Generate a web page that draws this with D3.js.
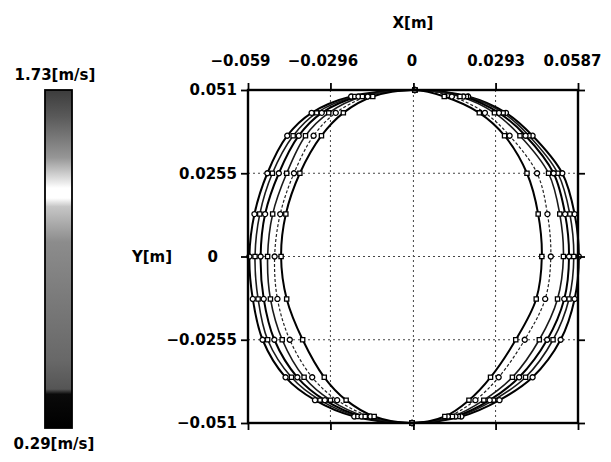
<!DOCTYPE html>
<html>
<head>
<meta charset="utf-8">
<script src="https://cdn.jsdelivr.net/npm/d3@7/dist/d3.min.js"></script>
<style>
  html, body { margin: 0; padding: 0; background: #fff; }
  svg { display: block; }
  text { font-family: "DejaVu Sans", Verdana, sans-serif; font-weight: bold; fill: #000; }
</style>
</head>
<body>
<svg id="chart" width="611" height="462"></svg>
<script>
// Axis ticks and labels
const xTicks = [-0.059, -0.0296, 0, 0.0293, 0.0587];
const xTickLabels = ["\u22120.059", "\u22120.0296", "0", "0.0293", "0.0587"];
const yTicks = [0.051, 0.0255, 0, -0.0255, -0.051];
const yTickLabels = ["0.051", "0.0255", "0", "\u22120.0255", "\u22120.051"];

// Colour bar range labels
const speedMax = "1.73[m/s]";
const speedMin = "0.29[m/s]";

// Y coordinate of every sample along a loop (top, down the right side, bottom, up the left side)
const loopY = [0.051, 0.049, 0.044, 0.037, 0.0255, 0.013, 0, -0.013, -0.0255, -0.037, -0.044, -0.049,
               -0.051, -0.049, -0.044, -0.037, -0.0255, -0.013, 0, 0.013, 0.0255, 0.037, 0.044, 0.049];

// X coordinate of each sample, one array per recorded loop (outermost first)
const loop1X = [0.0005, 0.0195, 0.0330, 0.0425, 0.0531, 0.0575, 0.0590, 0.0575, 0.0525, 0.0425, 0.0307, 0.0171,
                -0.0005, -0.0211, -0.0351, -0.0456, -0.0538, -0.0573, -0.0585, -0.0567, -0.0521, -0.0450, -0.0363, -0.0222];
const loop2X = [0.0005, 0.0189, 0.0320, 0.0412, 0.0515, 0.0558, 0.0572, 0.0555, 0.0498, 0.0400, 0.0286, 0.0160,
                -0.0005, -0.0198, -0.0333, -0.0435, -0.0520, -0.0554, -0.0565, -0.0548, -0.0503, -0.0429, -0.0345, -0.0209];
const loop3X = [0.0005, 0.0178, 0.0305, 0.0400, 0.0500, 0.0541, 0.0555, 0.0538, 0.0477, 0.0377, 0.0272, 0.0150,
                -0.0005, -0.0185, -0.0316, -0.0414, -0.0496, -0.0534, -0.0545, -0.0529, -0.0480, -0.0409, -0.0327, -0.0196];
const loop4X = [0.0005, 0.0166, 0.0289, 0.0380, 0.0482, 0.0522, 0.0535, 0.0514, 0.0449, 0.0353, 0.0251, 0.0139,
                -0.0005, -0.0172, -0.0296, -0.0390, -0.0468, -0.0510, -0.0520, -0.0502, -0.0452, -0.0385, -0.0302, -0.0182];
const loop5X = [0.0005, 0.0137, 0.0255, 0.0343, 0.0441, 0.0478, 0.0490, 0.0470, 0.0397, 0.0304, 0.0221, 0.0123,
                -0.0005, -0.0153, -0.0272, -0.0361, -0.0441, -0.0485, -0.0495, -0.0475, -0.0426, -0.0356, -0.0277, -0.0163];
const loop6X = [0.0005, 0.0110, 0.0235, 0.0325, 0.0405, 0.0445, 0.0458, 0.0438, 0.0365, 0.0275, 0.0198, 0.0112,
                -0.0005, -0.0140, -0.0240, -0.0318, -0.0395, -0.0452, -0.0472, -0.0455, -0.0405, -0.0328, -0.0250, -0.0145];

const loops = [loop1X, loop2X, loop3X, loop4X, loop5X, loop6X].map(xs => xs.map((x, i) => [x, loopY[i]]));

const svg = d3.select("#chart");
const plot = { left: 248, right: 578, top: 90, bottom: 423 };
const FONT = "15px";

const x = d3.scaleLinear().domain([-0.059, 0.0587]).range([plot.left, plot.right]);
const y = d3.scaleLinear().domain([-0.051, 0.051]).range([plot.bottom, plot.top]);

// ---- colour bar ----
const defs = svg.append("defs");
const grad = defs.append("linearGradient").attr("id", "speedGrad")
  .attr("x1", 0).attr("y1", 0).attr("x2", 0).attr("y2", 1);
[[0, "#3c3c3c"], [0.08, "#5a5a5a"], [0.2, "#969696"], [0.27, "#e6e6e6"], [0.29, "#fff"], [0.32, "#fff"],
 [0.345, "#c6c6c6"], [0.45, "#8c8c8c"], [0.62, "#7a7a7a"], [0.8, "#686868"], [0.885, "#555"],
 [0.9, "#0a0a0a"], [1, "#000"]].forEach(([o, c]) => grad.append("stop").attr("offset", o).attr("stop-color", c));

const bar = { x: 45, y: 90, w: 27, h: 338 };
svg.append("rect").attr("x", bar.x).attr("y", bar.y).attr("width", bar.w).attr("height", bar.h)
  .attr("fill", "url(#speedGrad)").attr("stroke", "#000").attr("stroke-width", 1.8);
svg.append("text").attr("x", 55).attr("y", 80).attr("text-anchor", "middle")
  .style("font-size", FONT).text(speedMax);
svg.append("text").attr("x", 54).attr("y", 449).attr("text-anchor", "middle")
  .style("font-size", FONT).text(speedMin);

// ---- grid ----
const grid = svg.append("g").attr("stroke", "#444").attr("stroke-width", 1).attr("stroke-dasharray", "2,3");
xTicks.slice(1, -1).forEach(v => grid.append("line")
  .attr("x1", x(v)).attr("x2", x(v)).attr("y1", plot.top).attr("y2", plot.bottom));
yTicks.slice(1, -1).forEach(v => grid.append("line")
  .attr("x1", plot.left).attr("x2", plot.right).attr("y1", y(v)).attr("y2", y(v)));

// ---- loops ----
const line = d3.line().x(d => x(d[0])).y(d => y(d[1])).curve(d3.curveCatmullRomClosed.alpha(0.5));
const loopStyle = [
  { w: 2.0, dash: null, col: "#000" },
  { w: 1.6, dash: null, col: "#1a1a1a" },
  { w: 2.0, dash: null, col: "#000" },
  { w: 1.6, dash: null, col: "#1a1a1a" },
  { w: 1.2, dash: "3,2", col: "#222" },
  { w: 2.0, dash: null, col: "#000" }
];
const gLoops = svg.append("g");
loops.forEach((pts, i) => {
  gLoops.append("path").attr("d", line(pts)).attr("fill", "none")
    .attr("stroke", loopStyle[i].col).attr("stroke-width", loopStyle[i].w)
    .attr("stroke-dasharray", loopStyle[i].dash);
});
const symCircle = d3.symbol().type(d3.symbolCircle).size(20);
const symSquare = d3.symbol().type(d3.symbolSquare).size(18);
loops.forEach((pts, i) => {
  gLoops.append("g").selectAll("path").data(pts).join("path")
    .attr("transform", d => `translate(${x(d[0])},${y(d[1])})`)
    .attr("d", i % 2 ? symSquare : symCircle)
    .attr("fill", "#fff").attr("stroke", "#000").attr("stroke-width", 1.3);
});

// ---- frame and axes ----
svg.append("rect").attr("x", plot.left).attr("y", plot.top)
  .attr("width", plot.right - plot.left).attr("height", plot.bottom - plot.top)
  .attr("fill", "none").attr("stroke", "#000").attr("stroke-width", 2.4);

function styleAxis(g) {
  g.select(".domain").remove();
  g.selectAll(".tick line").attr("stroke", "#000").attr("stroke-width", 1.8);
  g.selectAll("text").style("font-size", FONT).style("font-family", "'DejaVu Sans', Verdana, sans-serif")
    .style("font-weight", "bold").attr("fill", "#000");
}

const xTop = svg.append("g").attr("transform", `translate(0,${plot.top})`)
  .call(d3.axisTop(x).tickValues(xTicks).tickSize(7).tickPadding(17).tickFormat((d, i) => xTickLabels[i]))
  .call(styleAxis);
xTop.selectAll(".tick text").attr("dx", (d, i) => d < 0 ? -8 : (d === 0 ? -2 : (i === 4 ? -6 : 0)));

svg.append("g").attr("transform", `translate(0,${plot.bottom})`)
  .call(d3.axisBottom(x).tickValues(xTicks).tickSize(7).tickFormat(""))
  .call(styleAxis);

const yLeft = svg.append("g").attr("transform", `translate(${plot.left},0)`)
  .call(d3.axisLeft(y).tickValues(yTicks).tickSize(7).tickPadding(4).tickFormat((d, i) => yTickLabels[i]))
  .call(styleAxis);
yLeft.selectAll(".tick text").attr("dx", d => d === 0 ? -19 : 0);

svg.append("g").attr("transform", `translate(${plot.right},0)`)
  .call(d3.axisRight(y).tickValues(yTicks).tickSize(7).tickFormat(""))
  .call(styleAxis);

// ---- axis titles ----
svg.append("text").attr("x", 413).attr("y", 28).attr("text-anchor", "middle")
  .style("font-size", FONT).text("X[m]");
svg.append("text").attr("x", 152).attr("y", 262).attr("text-anchor", "middle")
  .style("font-size", FONT).text("Y[m]");
</script>
</body>
</html>
